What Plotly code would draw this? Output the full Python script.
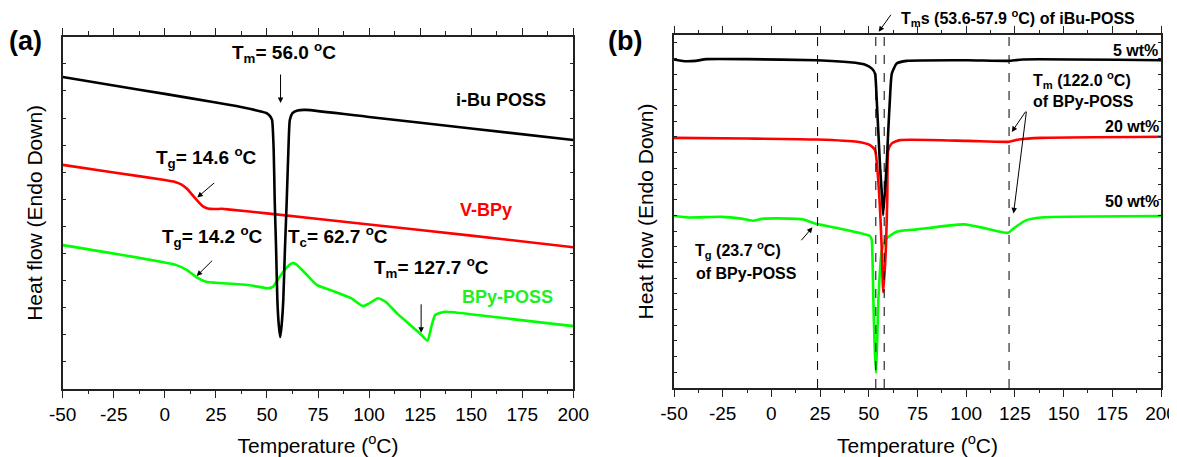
import plotly.graph_objects as go

# ---------------- Panel (a) data (heat flow, arbitrary units) ----------------
a_ibu_T = [-50, -25, 0, 25, 35, 42, 47, 50, 51.5, 52.5, 53.3, 53.8, 54.5, 55.1, 55.8, 56.5,
           57.2, 58, 58.8, 59.7, 60.5, 61.2, 62.5, 65, 69, 100, 150, 200]
a_ibu_H = [11.51, 11.20, 10.89, 10.57, 10.44, 10.33, 10.24, 10.17, 10.07, 9.93, 8.82, 6.97, 5.13, 3.28, 2.36, 1.92,
           2.36, 3.28, 5.13, 6.97, 8.82, 9.93, 10.18, 10.28, 10.30, 10.04, 9.61, 9.19]

a_vbpy_T = [-50, -25, 0, 5, 8, 11, 13.5, 16, 18.5, 21, 24, 28, 32, 50, 100, 150, 200]
a_vbpy_H = [8.27, 7.99, 7.71, 7.64, 7.55, 7.38, 7.16, 6.94, 6.75, 6.66, 6.64, 6.65, 6.62, 6.48, 6.07, 5.66, 5.23]

a_bpy_T = [-50, 5.3, 10.9, 15.6, 20.2, 24.9, 40.8, 50.1, 52.9, 55.7, 58.6, 62.3, 64.2, 68.8, 74.4, 81.9,
           91.2, 96.9, 99.7, 104.4, 108.1, 113.7, 119.3, 124.9, 128.6, 130.5, 132.4, 137.1, 153, 200]
a_bpy_H = [5.31, 4.58, 4.39, 4.12, 3.96, 3.92, 3.84, 3.72, 3.77, 4.08, 4.39, 4.64, 4.61, 4.27, 3.84, 3.63,
           3.35, 3.06, 3.14, 3.35, 3.22, 2.79, 2.42, 2.05, 1.78, 2.30, 2.73, 2.85, 2.73, 2.32]

# ---------------- Panel (b) data ----------------
b_5_T = [-50, -44.6, -38.9, -33.3, -12.5, 23.4, 40.3, 47.9, 51.6, 53.2, 54, 55.7, 56.8, 57.4,
         59.2, 60, 60.9, 61.8, 64.3, 69.5, 100.7, 121.5, 129, 200]
b_5_H = [20.94, 20.83, 20.85, 20.96, 20.96, 20.89, 20.76, 20.62, 20.36, 20.04, 18.55, 14.31, 12.18, 11.02,
         14.31, 16.43, 18.55, 20.04, 20.68, 20.85, 20.89, 20.85, 20.94, 20.89]

b_20_T = [-50, -12.5, 23.4, 44.1, 50.6, 53.2, 55.4, 56.6, 57.4, 58.8, 59.5, 60, 61.8, 66,
          100.7, 121.5, 127.1, 138.4, 200]
b_20_H = [15.94, 15.90, 15.84, 15.69, 15.48, 15.16, 12.18, 9.00, 6.10, 9.00, 12.18, 15.16, 15.59, 15.80,
          15.75, 15.69, 15.84, 15.94, 16.01]

b_50_T = [-50, -42.7, -25.7, -16.3, -9.6, -4.9, 2.6, 15.8, 23.4, 34.7, 50.7, 51.5, 52.3, 53, 53.7,
          54.2, 55, 56.7, 59.2, 64.3, 74.6, 98.9, 110.2, 121.5, 124.3, 131, 138.4, 200]
b_50_H = [10.96, 10.87, 10.91, 10.81, 10.66, 10.78, 10.81, 10.75, 10.45, 10.17, 9.68, 9.43, 5.82, 2.63, 0.96,
          2.63, 5.82, 8.79, 9.54, 9.96, 10.11, 10.43, 10.17, 9.89, 10.17, 10.70, 10.87, 10.96]

b_dashed_T = [23.7, 53.6, 57.9, 122.0]

x_ticks = [-50, -25, 0, 25, 50, 75, 100, 125, 150, 175, 200]

BLACK, RED, GREEN = "#000000", "#ff0000", "#00ff00"
FONT = "Liberation Sans, Arial, sans-serif"
LW = 2.6
# the page body has an 8 px margin, so the figure is drawn 8 px in from the top-left corner
OFF = 8
W, H = 1177 - OFF, 457 - OFF

def px(x):
    return (x - OFF) / W

def py(y):
    return 1 - (y - OFF) / H

fig = go.Figure()

def add_curve(T, Hf, color, xa, ya):
    fig.add_trace(go.Scatter(x=T, y=Hf, mode="lines", xaxis=xa, yaxis=ya, showlegend=False,
                             line=dict(color=color, width=LW, shape="spline", smoothing=0.5),
                             hoverinfo="skip"))

add_curve(a_bpy_T, a_bpy_H, GREEN, "x", "y")
add_curve(a_vbpy_T, a_vbpy_H, RED, "x", "y")
add_curve(a_ibu_T, a_ibu_H, BLACK, "x", "y")

add_curve(b_50_T, b_50_H, GREEN, "x2", "y2")
add_curve(b_20_T, b_20_H, RED, "x2", "y2")
add_curve(b_5_T, b_5_H, BLACK, "x2", "y2")

for t in b_dashed_T:
    fig.add_shape(type="line", xref="x2", yref="y2 domain", x0=t, x1=t, y0=0, y1=1,
                  line=dict(color="#000000", width=1, dash="dash"))

axis_common = dict(showline=True, linecolor="#222222", linewidth=1.5, mirror="ticks", showgrid=False,
                   zeroline=False, automargin=False)
xcommon = dict(axis_common, range=[-50, 200], tickmode="array", tickvals=x_ticks,
               ticktext=[str(v) for v in x_ticks], ticks="outside", ticklen=7, tickwidth=1.3,
               tickcolor="#222222", tickfont=dict(family=FONT, size=19, color="#000000"),
               minor=dict(dtick=12.5, tick0=-50, ticks="outside", ticklen=3.5, tickwidth=1.2,
                          tickcolor="#222222"),
               title=dict(text="Temperature (<sup>o</sup>C)", font=dict(family=FONT, size=21, color="#000000"),
                          standoff=19))
ycommon = dict(axis_common, showticklabels=False, ticks="inside", ticklen=3.5, tickwidth=1.2,
               tickcolor="#222222", dtick=1, tick0=0,
               title=dict(text="Heat flow (Endo Down)", font=dict(family=FONT, size=21, color="#000000"),
                          standoff=13))

fig.update_layout(
    width=W, height=H, margin=dict(l=0, r=0, t=0, b=0, autoexpand=False),
    paper_bgcolor="white", plot_bgcolor="white",
    xaxis=dict(xcommon, domain=[px(62.7), px(573.3)], anchor="y"),
    yaxis=dict(ycommon, domain=[py(389), py(36.7)], range=[0, 13], anchor="x"),
    xaxis2=dict(xcommon, domain=[px(674), px(1161)], anchor="y2"),
    yaxis2=dict(ycommon, domain=[py(388), py(35)], range=[0, 22.5], anchor="x2"),
)

ann = []

def txt(text, x, y, xa, ya, size=17, color="#000000", xanchor="center"):
    ann.append(dict(text="<b>" + text + "</b>", x=x, y=y, xref=xa, yref=ya, showarrow=False,
                    xanchor=xanchor, yanchor="middle", font=dict(family=FONT, size=size, color=color)))

def arrow(x0, y0, x1, y1, xa, ya):
    ann.append(dict(text="", x=x1, y=y1, ax=x0, ay=y0, xref=xa, yref=ya, axref=xa, ayref=ya,
                    showarrow=True, arrowhead=2, arrowsize=1.1, arrowwidth=1, arrowcolor="#000000"))

# panel labels
ann.append(dict(text="<b>(a)</b>", x=px(7), y=py(41), xref="paper", yref="paper", showarrow=False,
                xanchor="left", yanchor="middle", font=dict(family=FONT, size=27, color="#000000")))
ann.append(dict(text="<b>(b)</b>", x=px(606), y=py(41), xref="paper", yref="paper", showarrow=False,
                xanchor="left", yanchor="middle", font=dict(family=FONT, size=27, color="#000000")))

# panel (a) texts
txt("T<sub>m</sub>= 56.0 <sup>o</sup>C", 58.5, 12.40, "x", "y", size=19)
arrow(56.66, 11.66, 56.66, 10.55, "x", "y")
txt("i-Bu POSS", 164.4, 10.66, "x", "y", size=18)
txt("T<sub>g</sub>= 14.6 <sup>o</sup>C", 20.5, 8.56, "x", "y", size=19)
arrow(24.9, 7.65, 15.9, 7.07, "x", "y")
txt("V-BPy", 157.2, 6.61, "x", "y", size=18, color=RED)
txt("T<sub>g</sub>= 14.2 <sup>o</sup>C", 23.4, 5.61, "x", "y", size=19)
arrow(23.9, 4.79, 15.6, 4.17, "x", "y")
txt("T<sub>c</sub>= 62.7 <sup>o</sup>C", 84.6, 5.61, "x", "y", size=19)
txt("T<sub>m</sub>= 127.7 <sup>o</sup>C", 130.7, 4.50, "x", "y", size=19)
arrow(125.5, 3.18, 125.5, 2.08, "x", "y")
txt("BPy-POSS", 167.6, 3.41, "x", "y", size=18, color="#22ee22")

# panel (b) texts
ann.append(dict(text="<b>T<sub>m</sub>s (53.6-57.9 <sup>o</sup>C) of iBu-POSS</b>", x=px(1018), y=py(18),
                xref="paper", yref="paper", showarrow=False, xanchor="center", yanchor="middle",
                font=dict(family=FONT, size=16, color="#000000")))
ann.append(dict(text="", x=px(878.7), y=py(31.7), ax=13.3, ay=-18.4, xref="paper", yref="paper",
                axref="pixel", ayref="pixel", showarrow=True, arrowhead=2, arrowsize=1.1, arrowwidth=1,
                arrowcolor="#000000"))
txt("5 wt%", 199.5, 21.53, "x2", "y2", size=16, xanchor="right")
txt("T<sub>m</sub> (122.0 <sup>o</sup>C)", 133.5, 19.62, "x2", "y2", size=16, xanchor="left")
txt("of BPy-POSS", 133.5, 18.24, "x2", "y2", size=16, xanchor="left")
arrow(131, 17.71, 123.4, 16.32, "x2", "y2")
arrow(131, 17.71, 124.3, 11.13, "x2", "y2")
txt("20 wt%", 200, 16.64, "x2", "y2", size=16, xanchor="right")
txt("50 wt%", 200, 11.87, "x2", "y2", size=16, xanchor="right")
txt("T<sub>g</sub> (23.7 <sup>o</sup>C)", -40.5, 8.79, "x2", "y2", size=16, xanchor="left")
txt("of BPy-POSS", -39.5, 7.32, "x2", "y2", size=16, xanchor="left")
arrow(14.7, 9.32, 21.1, 10.24, "x2", "y2")

fig.update_layout(annotations=ann)
fig.write_html("out.html")
